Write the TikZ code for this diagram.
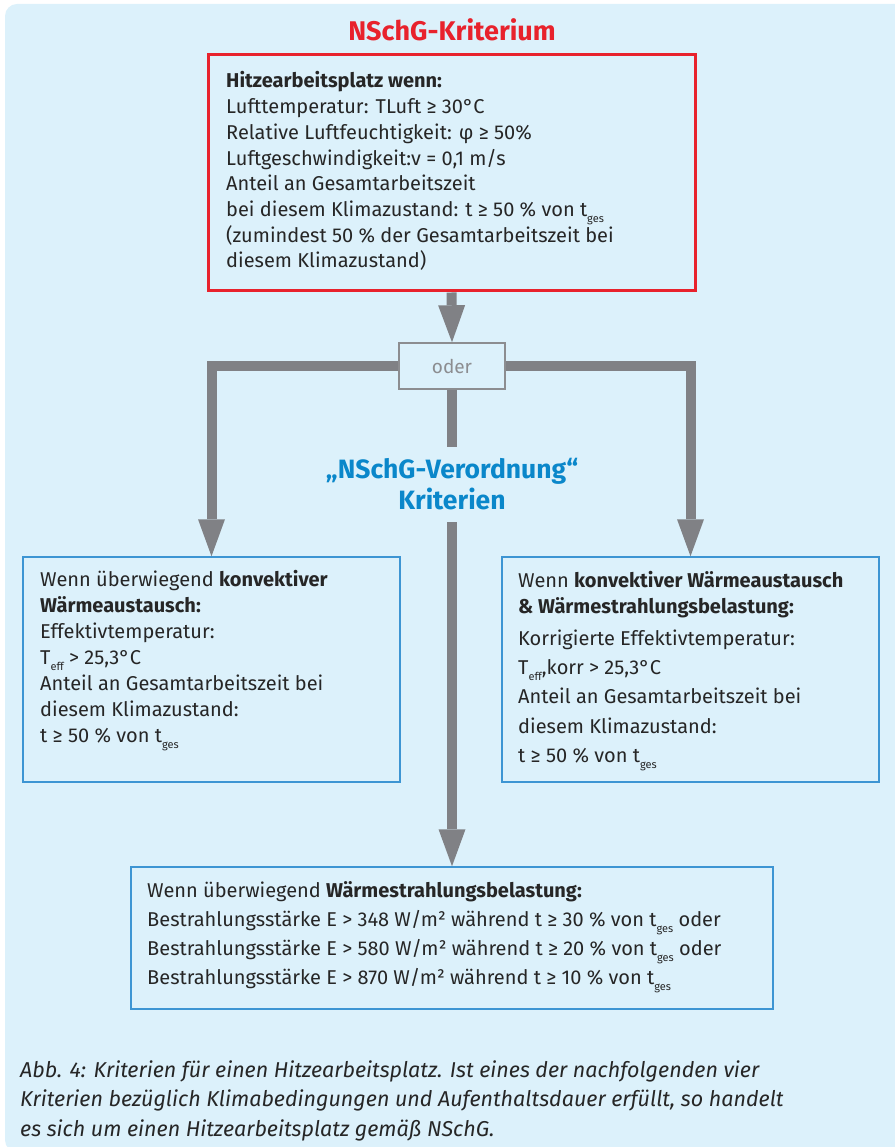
\documentclass[tikz,border=0pt]{standalone}
\usepackage{fontspec}
\setmainfont{Fira Sans}
\usetikzlibrary{arrows.meta}
\definecolor{bgblue}{HTML}{DCF1FB}
\definecolor{critred}{HTML}{E8222C}
\definecolor{flowgray}{HTML}{808185}
\definecolor{odergray}{HTML}{8C8D90}
\definecolor{boxblue}{HTML}{3D95D3}
\definecolor{headblue}{HTML}{0A87CA}
\definecolor{txtgray}{HTML}{262626}
\newcommand{\sbs}[1]{\raisebox{-0.6ex}{\fontsize{11}{11}\selectfont #1}}
\newcommand{\body}{\fontsize{20}{26}\selectfont}
\tikzset{
  redbox/.style={draw=critred, line width=3pt, minimum width=487pt, minimum height=236pt, inner sep=0pt},
  bluebox/.style={draw=boxblue, line width=1.5pt, inner sep=0pt},
  oderbox/.style={draw=odergray, line width=1.5pt, minimum width=106pt, minimum height=46pt, inner sep=0pt, text=odergray, font=\fontsize{19}{24}\selectfont},
  txt/.style={inner sep=0pt, text=txtgray, font=\body},
  flow/.style={draw=flowgray, line width=10pt, line join=miter, -{Triangle[width=27pt,length=37pt,line width=0pt]}},
  flowline/.style={draw=flowgray, line width=10pt},
}
\begin{document}
\begin{tikzpicture}[x=1pt,y=-1pt]
\useasboundingbox (0,0) rectangle (894,1147);
\fill[bgblue, rounded corners=12pt] (5,4) rectangle (912,1152);

% title
\node[inner sep=0pt, anchor=base, text=critred, font=\bfseries\fontsize{27}{32}\selectfont] (title) at (452,41) {NSchG-Kriterium};

% red criterion box
\node[redbox] (crit) at (451.5,173) {};
\node[txt, anchor=base west] (critT) at (226,88) {\vtop{\baselineskip=25.7pt\lineskiplimit=-50pt
\hbox{\bfseries Hitzearbeitsplatz wenn:}
\hbox{Lufttemperatur: TLuft ≥ 30°C}
\hbox{Relative Luftfeuchtigkeit: φ ≥ 50\%}
\hbox{Luftgeschwindigkeit:v = 0,1 m/s}
\hbox{Anteil an Gesamtarbeitszeit}
\hbox{bei diesem Klimazustand: t ≥ 50 \% von t\sbs{ges}}
\hbox{(zumindest 50 \% der Gesamtarbeitszeit bei}
\hbox{diesem Klimazustand)}}};

% oder
\node[oderbox] (oder) at (452,366) {oder};

% Verordnung heading
\node[inner sep=0pt, minimum height=75pt, text=headblue, font=\bfseries\fontsize{26.5}{31}\selectfont, align=center] (vt) at (452,484.5) {„NSchG-Verordnung“\\Kriterien};

% lower boxes
\node[bluebox, minimum width=377pt, minimum height=225pt] (lbox) at (211.5,669.5) {};
\node[bluebox, minimum width=377pt, minimum height=225pt] (rbox) at (690.5,669.5) {};
\node[bluebox, minimum width=642pt, minimum height=142pt] (bbox) at (452,938) {};

\node[txt, anchor=base west] (lboxT) at (40,586) {\vtop{\baselineskip=26pt\lineskiplimit=-50pt
\hbox{Wenn überwiegend \textbf{konvektiver}}
\hbox{\bfseries Wärmeaustausch:}
\hbox{Effektivtemperatur:}
\hbox{T\sbs{eff} > 25,3°C}
\hbox{Anteil an Gesamtarbeitszeit bei}
\hbox{diesem Klimazustand:}
\hbox{t ≥ 50 \% von t\sbs{ges}}}};

\node[txt, anchor=base west] (rboxT) at (518,587) {\vtop{\baselineskip=29.3pt\lineskiplimit=-50pt
\hbox{Wenn \textbf{konvektiver Wärmeaustausch}}
\vskip-2.5pt
\hbox{\bfseries \& Wärmestrahlungsbelastung:}
\vskip2pt
\hbox{Korrigierte Effektivtemperatur:}
\hbox{T\sbs{eff},korr > 25,3°C}
\hbox{Anteil an Gesamtarbeitszeit bei}
\hbox{diesem Klimazustand:}
\hbox{t ≥ 50 \% von t\sbs{ges}}}};

\node[txt, anchor=base west] (bboxT) at (147,897) {\vtop{\baselineskip=29pt\lineskiplimit=-50pt
\hbox{Wenn überwiegend \textbf{Wärmestrahlungsbelastung:}}
\hbox{Bestrahlungsstärke E > 348 W/m² während t ≥ 30 \% von t\sbs{ges} oder}
\hbox{Bestrahlungsstärke E > 580 W/m² während t ≥ 20 \% von t\sbs{ges} oder}
\hbox{Bestrahlungsstärke E > 870 W/m² während t ≥ 10 \% von t\sbs{ges}}}};

% connectors
\draw[flow] (crit.south) -- (oder.north);
\draw[flow] (oder.west) -| (lbox.north);
\draw[flow] (oder.east) -| (rbox.north);
\draw[flowline] (oder.south) -- (vt.north);
\draw[flow] (vt.south) -- (bbox.north);

% caption
\node[txt, anchor=base west, font=\itshape\fontsize{21.5}{30}\selectfont] (cap) at (20,1077) {\vtop{\baselineskip=29.5pt\lineskiplimit=-50pt
\hbox{Abb. 4: Kriterien für einen Hitzearbeitsplatz. Ist eines der nachfolgenden vier}
\hbox{Kriterien bezüglich Klimabedingungen und Aufenthaltsdauer erfüllt, so handelt}
\hbox{es sich um einen Hitzearbeitsplatz gemäß NSchG.}}};
\end{tikzpicture}
\end{document}
